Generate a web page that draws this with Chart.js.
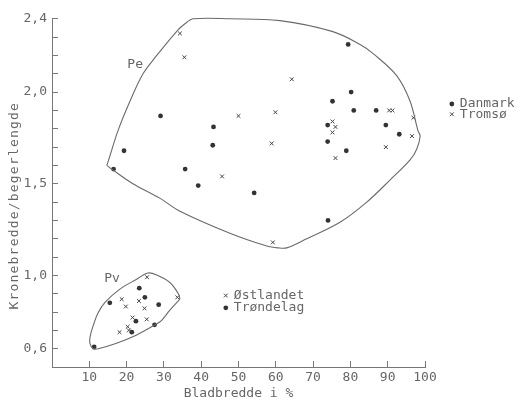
<!DOCTYPE html>
<html>
<head>
<meta charset="utf-8">
<title>Kronebredde/begerlengde mot bladbredde</title>
<script src="https://cdn.jsdelivr.net/npm/chart.js@4/dist/chart.umd.min.js"></script>
<style>
  html, body { margin: 0; padding: 0; background: #fff; }
  #wrap { width: 525px; height: 401px; }
</style>
</head>
<body>
<div id="wrap"><canvas id="chart"></canvas></div>
<script>
// Pe-gruppen: Danmark (prikker) og Tromsø (kryss)
const danmarkX = [79.4, 80.2, 75.2, 80.9, 43.3, 73.9, 43.1, 73.9, 78.9, 35.7, 39.2, 54.2, 29.1, 19.3, 16.5, 86.9, 89.5, 93.1, 74.0];
const danmarkY = [2.26, 2.00, 1.95, 1.90, 1.81, 1.82, 1.71, 1.73, 1.68, 1.58, 1.49, 1.45, 1.87, 1.68, 1.58, 1.90, 1.82, 1.77, 1.30];
const tromsoX = [34.3, 35.5, 64.3, 59.9, 50.0, 75.2, 76.0, 75.2, 58.9, 76.0, 45.6, 90.4, 91.3, 96.9, 96.5, 89.5, 59.2];
const tromsoY = [2.32, 2.19, 2.07, 1.89, 1.87, 1.84, 1.81, 1.78, 1.72, 1.64, 1.54, 1.90, 1.90, 1.86, 1.76, 1.70, 1.18];

// Pv-gruppen: Østlandet (kryss) og Trøndelag (prikker)
const ostlandetX = [25.5, 18.7, 19.8, 23.3, 33.6, 24.8, 21.6, 25.4, 20.3, 18.1, 20.6];
const ostlandetY = [0.99, 0.87, 0.83, 0.86, 0.88, 0.82, 0.77, 0.76, 0.72, 0.69, 0.70];
const trondelagX = [23.4, 15.5, 24.9, 28.6, 22.5, 21.4, 27.5, 11.3];
const trondelagY = [0.93, 0.85, 0.88, 0.84, 0.75, 0.69, 0.73, 0.61];

// Omrisset rundt gruppene (lest av figuren)
const peHullX = [14.7, 15.5, 17.7, 20.9, 24.4, 28.1, 33.8, 36.1, 37.8, 47.7, 61.1, 75.3, 82.6, 86.1, 92.4, 96.0, 98.1, 98.7, 97.8, 96.0, 90.6, 84.4, 77.2, 68.3, 62.9, 60.6, 57.6, 47.7, 34.3, 29.0, 21.7, 16.0, 14.7];
const peHullY = [1.60, 1.65, 1.79, 1.95, 2.10, 2.20, 2.34, 2.38, 2.40, 2.40, 2.39, 2.33, 2.26, 2.21, 2.09, 1.95, 1.79, 1.76, 1.69, 1.63, 1.52, 1.40, 1.29, 1.20, 1.15, 1.15, 1.16, 1.23, 1.35, 1.42, 1.50, 1.58, 1.60];
const pvHullX = [34.3, 31.6, 29.4, 27.6, 22.7, 17.3, 12.4, 11.0, 10.2, 10.2, 11.1, 12.3, 14.2, 18.2, 22.7, 25.7, 28.1, 31.6, 33.9, 34.3];
const pvHullY = [0.87, 0.81, 0.755, 0.73, 0.675, 0.63, 0.60, 0.60, 0.627, 0.664, 0.729, 0.793, 0.852, 0.925, 0.979, 1.013, 1.002, 0.961, 0.899, 0.87];

// Akser
const xTicks = [10, 20, 30, 40, 50, 60, 70, 80, 90, 100];
const yLabelled = [0.6, 1.0, 1.5, 2.0, 2.4];

function points(xs, ys) {
  return xs.map((x, i) => ({ x: x, y: ys[i] }));
}

const monoFont = '"DejaVu Sans Mono", "Liberation Mono", monospace';
const inkDot = '#333333';
const inkCross = '#444444';
const inkText = '#666666';
const inkAxis = '#777777';

Chart.defaults.font.family = monoFont;
Chart.defaults.font.size = 13;
Chart.defaults.color = inkText;

function drawMarker(ctx, style, px, py) {
  if (style === 'dot') {
    ctx.fillStyle = inkDot;
    ctx.beginPath();
    ctx.arc(px, py, 2.4, 0, Math.PI * 2);
    ctx.fill();
  } else {
    ctx.strokeStyle = inkCross;
    ctx.lineWidth = 1;
    ctx.beginPath();
    ctx.moveTo(px - 1.9, py - 1.9);
    ctx.lineTo(px + 1.9, py + 1.9);
    ctx.moveTo(px + 1.9, py - 1.9);
    ctx.lineTo(px - 1.9, py + 1.9);
    ctx.stroke();
  }
}

// Gruppenavn, forklaringer og y-aksetittel
const notes = {
  id: 'notes',
  afterDatasetsDraw(chart) {
    const { ctx, scales: { x, y } } = chart;
    ctx.save();
    ctx.font = '13px ' + monoFont;
    ctx.fillStyle = inkText;
    ctx.textBaseline = 'middle';
    ctx.textAlign = 'center';
    ctx.fillText('Pe', x.getPixelForValue(22.3), y.getPixelForValue(2.15));
    ctx.fillText('Pv', x.getPixelForValue(16.1), y.getPixelForValue(0.98));

    const keys = [
      { text: 'Danmark', style: 'dot', at: [107.2, 1.935] },
      { text: 'Tromsø', style: 'cross', at: [107.2, 1.879] },
      { text: 'Østlandet', style: 'cross', at: [46.6, 0.89] },
      { text: 'Trøndelag', style: 'dot', at: [46.6, 0.823] }
    ];
    keys.forEach(k => {
      const px = x.getPixelForValue(k.at[0]);
      const py = y.getPixelForValue(k.at[1]);
      drawMarker(ctx, k.style, px, py);
      ctx.fillStyle = inkText;
      ctx.textAlign = 'left';
      ctx.fillText(k.text, px + 8, py);
    });

    // y-aksetittel
    ctx.translate(chart.chartArea.left - 37, y.getPixelForValue(1.38));
    ctx.rotate(-Math.PI / 2);
    ctx.textAlign = 'center';
    ctx.letterSpacing = '1.2px';
    ctx.fillText('Kronebredde/begerlengde', 0, 0);
    ctx.restore();
  }
};

const hullStyle = {
  showLine: true,
  pointRadius: 0,
  pointHoverRadius: 0,
  borderColor: '#6a6a6a',
  borderWidth: 1.1,
  tension: 0.35,
  fill: false,
  clip: false
};

new Chart(document.getElementById('chart'), {
  type: 'scatter',
  data: {
    datasets: [
      Object.assign({ label: 'Pe', data: points(peHullX, peHullY) }, hullStyle),
      Object.assign({ label: 'Pv', data: points(pvHullX, pvHullY) }, hullStyle),
      {
        label: 'Danmark',
        data: points(danmarkX, danmarkY),
        pointStyle: 'circle',
        pointRadius: 2.4,
        backgroundColor: inkDot,
        borderWidth: 0
      },
      {
        label: 'Tromsø',
        data: points(tromsoX, tromsoY),
        pointStyle: 'crossRot',
        pointRadius: 2.7,
        borderColor: inkCross,
        borderWidth: 1
      },
      {
        label: 'Østlandet',
        data: points(ostlandetX, ostlandetY),
        pointStyle: 'crossRot',
        pointRadius: 2.7,
        borderColor: inkCross,
        borderWidth: 1
      },
      {
        label: 'Trøndelag',
        data: points(trondelagX, trondelagY),
        pointStyle: 'circle',
        pointRadius: 2.4,
        backgroundColor: inkDot,
        borderWidth: 0
      }
    ]
  },
  options: {
    responsive: true,
    maintainAspectRatio: false,
    animation: false,
    layout: { padding: { left: 0, top: 14, right: 100, bottom: 0 } },
    elements: { line: { capBezierPoints: false } },
    plugins: {
      legend: { display: false },
      tooltip: { enabled: false }
    },
    scales: {
      x: {
        type: 'linear',
        min: 0,
        max: 100,
        afterFit: s => { s.height = 34; },
        afterBuildTicks: s => { s.ticks = [0].concat(xTicks).map(v => ({ value: v })); },
        ticks: {
          autoSkip: false,
          maxRotation: 0,
          padding: 9,
          color: inkText,
          callback: v => (xTicks.includes(v) ? String(v) : '')
        },
        grid: { drawOnChartArea: false, drawTicks: true, tickLength: -6, color: inkAxis, lineWidth: 1 },
        border: { color: inkAxis, width: 1 },
        title: {
          display: true,
          text: 'Bladbredde i %',
          color: inkText,
          font: { size: 13 },
          padding: { top: 0, bottom: 0 }
        }
      },
      y: {
        type: 'linear',
        min: 0.5,
        max: 2.4,
        afterFit: s => { s.width = 52; },
        ticks: {
          stepSize: 0.1,
          maxTicksLimit: 100,
          autoSkip: false,
          padding: 11,
          color: inkText,
          callback: v => {
            const hit = yLabelled.find(t => Math.abs(t - v) < 1e-6);
            return hit === undefined ? '' : hit.toFixed(1).replace('.', ',');
          }
        },
        grid: { drawOnChartArea: false, drawTicks: true, tickLength: -6, color: inkAxis, lineWidth: 1 },
        border: { color: inkAxis, width: 1 }
      }
    }
  },
  plugins: [notes]
});
</script>
</body>
</html>
